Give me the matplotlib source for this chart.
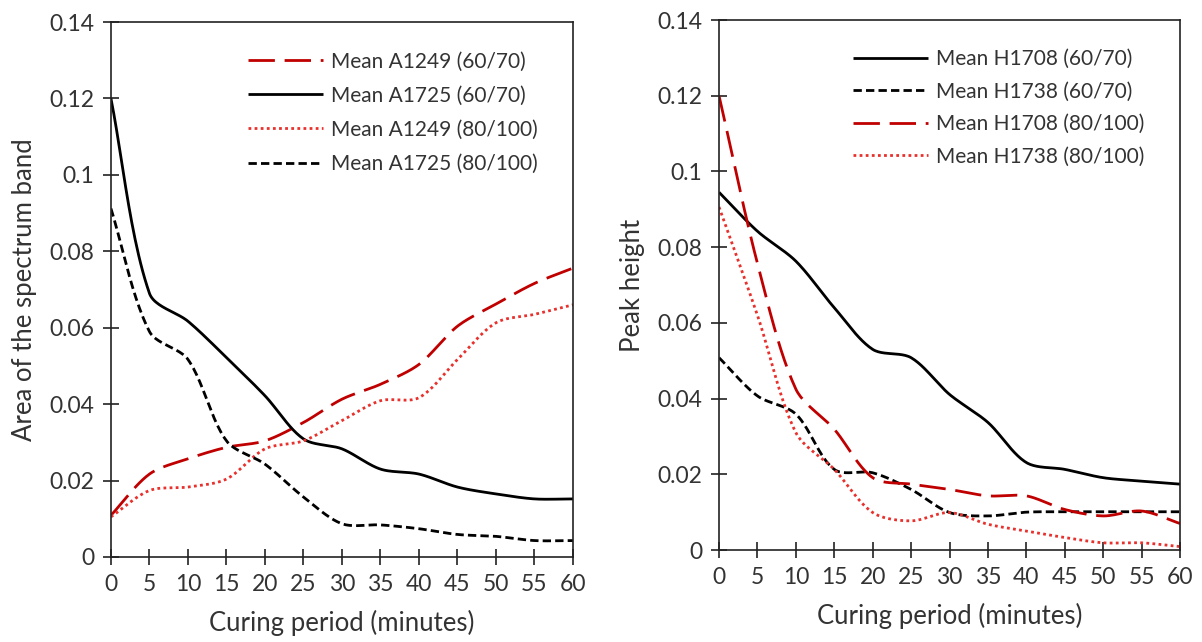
import numpy as np
import matplotlib
matplotlib.use("Agg")
import matplotlib.pyplot as plt
from matplotlib.ticker import FuncFormatter, MultipleLocator

plt.rcParams['font.family'] = ['Lato', 'DejaVu Sans']
plt.rcParams['lines.scale_dashes'] = False

# ---------------- data ----------------
time_min = [0, 5, 10, 15, 20, 25, 30, 35, 40, 45, 50, 55, 60]

# Left panel: area of spectrum band
a1249_6070 = [0.0109, 0.0217, 0.0257, 0.0287, 0.0304, 0.0352, 0.0413, 0.0452, 0.0504, 0.0604, 0.0662, 0.0716, 0.0756]
a1725_6070 = [0.120, 0.069, 0.0617, 0.0522, 0.0422, 0.0309, 0.0283, 0.0230, 0.0217, 0.0183, 0.0165, 0.0152, 0.0152]
a1249_80100 = [0.0105, 0.0174, 0.0183, 0.0204, 0.0283, 0.0304, 0.0357, 0.0409, 0.0417, 0.0517, 0.0613, 0.0635, 0.0660]
a1725_80100 = [0.0912, 0.059, 0.0517, 0.0304, 0.0243, 0.0157, 0.0087, 0.0084, 0.0074, 0.0059, 0.0054, 0.0043, 0.0043]

# Right panel: peak height
h1708_6070 = [0.0945, 0.0842, 0.0763, 0.0640, 0.0530, 0.0508, 0.0411, 0.0337, 0.0231, 0.0213, 0.0191, 0.0182, 0.0174]
h1738_6070 = [0.0508, 0.0407, 0.0359, 0.0213, 0.0204, 0.0160, 0.0099, 0.0090, 0.0100, 0.0101, 0.0101, 0.0101, 0.0101]
h1708_80100 = [0.120, 0.0757, 0.0425, 0.0319, 0.0191, 0.0174, 0.0160, 0.0143, 0.0143, 0.0107, 0.0090, 0.0103, 0.0070]
h1738_80100 = [0.0906, 0.0620, 0.0310, 0.0213, 0.0099, 0.0077, 0.0099, 0.0068, 0.0050, 0.0033, 0.0019, 0.0019, 0.0009]

left_labels = ["Mean A1249 (60/70)", "Mean A1725 (60/70)", "Mean A1249 (80/100)", "Mean A1725 (80/100)"]
right_labels = ["Mean H1708 (60/70)", "Mean H1738 (60/70)", "Mean H1708 (80/100)", "Mean H1738 (80/100)"]

# ---------------- styles ----------------
DARKRED = '#C00000'
RED = '#E8302C'
TEXT = '#333333'
LW = 2.0
style_longdash = dict(color=DARKRED, lw=LW, dashes=(19, 7))
style_solid = dict(color='black', lw=LW, linestyle='-')
style_dot = dict(color=RED, lw=LW, dashes=(2.0, 2.4))
style_dash = dict(color='black', lw=LW, dashes=(6, 3))


def smooth(x, y, xspan=60.0, yspan=0.14, aspect=535 / 462, k=0.3, n=24):
    """Excel-like smoothed line: cubic Bezier through the data points with
    control-point lengths proportional to each segment's length."""
    x = np.asarray(x, float)
    y = np.asarray(y, float)
    u = x / xspan
    v = y / yspan * aspect
    m = len(u)
    tang = np.zeros((m, 2))
    for i in range(m):
        a = max(i - 1, 0)
        b = min(i + 1, m - 1)
        d = np.array([u[b] - u[a], v[b] - v[a]])
        tang[i] = d / (np.hypot(*d) or 1.0)
    t = np.linspace(0, 1, n, endpoint=False)
    us, vs = [], []
    for i in range(m - 1):
        p1 = np.array([u[i], v[i]])
        p2 = np.array([u[i + 1], v[i + 1]])
        L = np.hypot(*(p2 - p1))
        c1 = p1 + tang[i] * L * k
        c2 = p2 - tang[i + 1] * L * k
        b0 = (1 - t) ** 3
        b1 = 3 * (1 - t) ** 2 * t
        b2 = 3 * (1 - t) * t ** 2
        b3 = t ** 3
        us.append(b0 * p1[0] + b1 * c1[0] + b2 * c2[0] + b3 * p2[0])
        vs.append(b0 * p1[1] + b1 * c1[1] + b2 * c2[1] + b3 * p2[1])
    us.append([u[-1]])
    vs.append([v[-1]])
    return np.concatenate(us) * xspan, np.concatenate(vs) / aspect * yspan


fig = plt.figure(figsize=(12.02, 6.42), dpi=100)
ax1 = fig.add_axes([0.0923, 0.1324, 0.4767 - 0.0923, 0.9657 - 0.1324])
ax2 = fig.add_axes([0.5982, 0.1433, 0.9817 - 0.5982, 0.9688 - 0.1433])

fmt = FuncFormatter(lambda v, p: f"{v:g}" if abs(v) > 1e-12 else "0")

for ax, series, labels, ylabel in [
    (ax1, [(a1249_6070, style_longdash), (a1725_6070, style_solid),
           (a1249_80100, style_dot), (a1725_80100, style_dash)],
     left_labels, "Area of the spectrum band"),
    (ax2, [(h1708_6070, style_solid), (h1738_6070, style_dash),
           (h1708_80100, style_longdash), (h1738_80100, style_dot)],
     right_labels, "Peak height"),
]:
    for (vals, st), lab in zip(series, labels):
        sx, sy = smooth(time_min, vals)
        ax.plot(sx, sy, label=lab, solid_capstyle='butt', dash_capstyle='butt', **st)
    ax.set_xlim(0, 60)
    ax.set_ylim(0, 0.14)
    ax.xaxis.set_major_locator(MultipleLocator(5))
    ax.yaxis.set_major_locator(MultipleLocator(0.02))
    ax.yaxis.set_major_formatter(fmt)
    ax.tick_params(direction='inout', length=12, width=1.2, labelsize=16.5,
                   pad=6, color='#222222', labelcolor=TEXT)
    for s in ax.spines.values():
        s.set_linewidth(1.2)
        s.set_color('#222222')
    ax.set_xlabel("Curing period (minutes)", fontsize=18.5, color=TEXT, labelpad=11)
    ax.set_ylabel(ylabel, fontsize=18.5, color=TEXT, labelpad=9)

leg1 = ax1.legend(loc='upper left', bbox_to_anchor=(0.2965, 0.945), frameon=False,
                  fontsize=15, handlelength=3.6, handletextpad=0.4, labelspacing=0.68,
                  borderpad=0, borderaxespad=0)
leg2 = ax2.legend(loc='upper left', bbox_to_anchor=(0.2907, 0.945), frameon=False,
                  fontsize=15, handlelength=3.6, handletextpad=0.4, labelspacing=0.6,
                  borderpad=0, borderaxespad=0)
for leg in (leg1, leg2):
    for t in leg.get_texts():
        t.set_color(TEXT)

fig.savefig("out.png", dpi=100)
